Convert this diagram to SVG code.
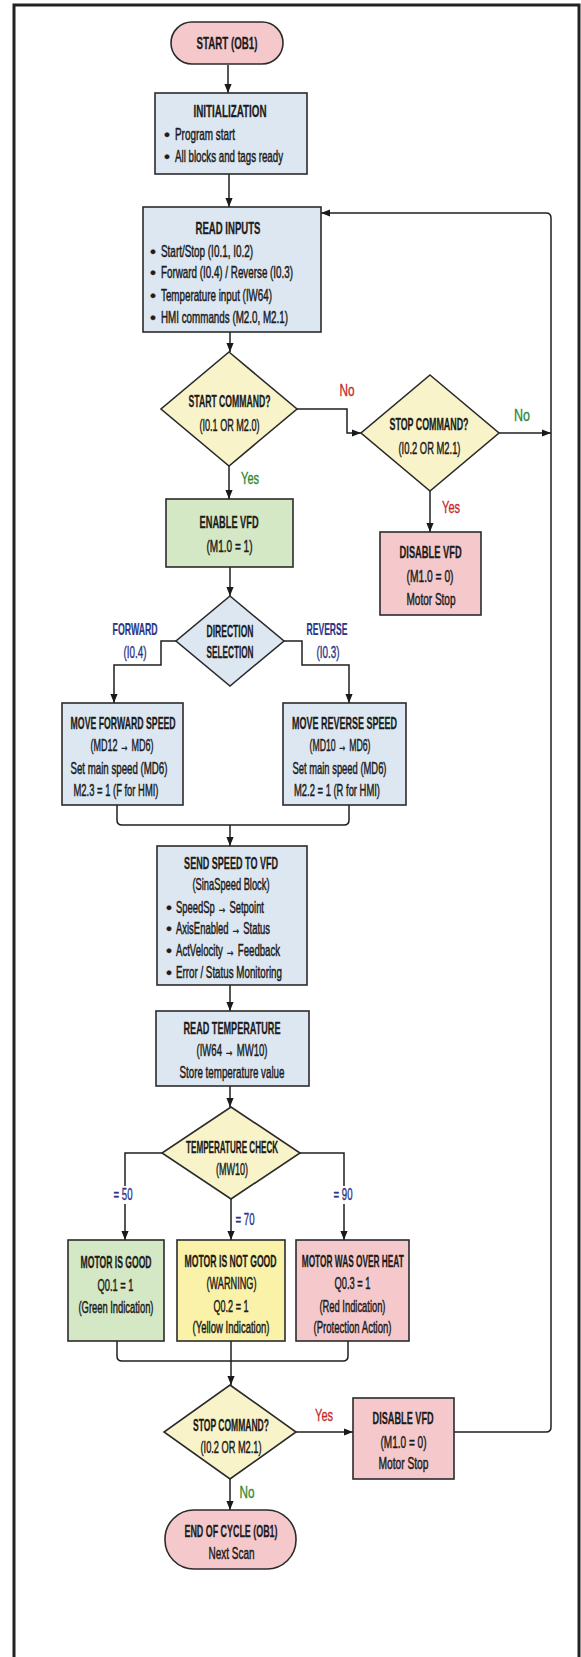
<svg xmlns="http://www.w3.org/2000/svg" width="581" height="1657" viewBox="0 0 581 1657">
<defs>
<marker id="ah" viewBox="0 0 10 10" refX="10" refY="5" markerWidth="9" markerHeight="9" markerUnits="userSpaceOnUse" orient="auto"><path d="M0,1 L10,5 L0,9 z" fill="#1a1a1a"/></marker>
<style>
text{font-family:"Liberation Sans",Arial,sans-serif;font-size:17px;fill:#1c1c1c;text-anchor:middle;stroke:#1c1c1c;stroke-width:0.5px;transform-box:fill-box;transform-origin:center;transform:scaleX(0.5)}
.h{font-weight:bold;stroke-width:0.3px}
.l{text-anchor:start;transform-origin:left center}
.bul{transform:none;stroke-width:0.3px}
.red{fill:#c42a2a;stroke:#c42a2a;stroke-width:0.35px}
.grn{fill:#2f8a2f;stroke:#2f8a2f;stroke-width:0.35px}
.nav{fill:#2d3588;stroke:#2d3588;stroke-width:0.25px;font-weight:bold}
.nav2{fill:#2d3588;stroke:#2d3588;stroke-width:0.4px}
.box{stroke:#2b2b2b;stroke-width:1.6}
.blue{fill:#dce7f2}
.pink{fill:#f5c9cb}
.green{fill:#d4e8c5}
.yel{fill:#f8f3c9}
.yel2{fill:#f9f2a8}
.con{fill:none;stroke:#1f1f1f;stroke-width:1.5}
.arr{marker-end:url(#ah)}
</style>
</defs>
<rect x="0" y="0" width="581" height="1657" fill="#fff"/>
<rect x="14" y="5" width="565" height="1670" fill="none" stroke="#222" stroke-width="3"/>

<g id="connectors">
<path class="con arr" d="M228,65 V93"/>
<path class="con arr" d="M229,174 V207"/>
<path class="con arr" d="M230,332 V352"/>
<path class="con arr" d="M297,409 H347 V433 H361"/>
<path class="con arr" d="M499,433 H551"/>
<path class="con arr" d="M229,466 V499"/>
<path class="con arr" d="M430,491 V532"/>
<path class="con arr" d="M230,567 V596"/>
<path class="con arr" d="M176,641 H161 V665 H114 V703"/>
<path class="con arr" d="M284,641 H302 V665 H349 V703"/>
<path class="con" d="M117,805 V820 Q117,825 122,825 H344 Q349,825 349,820 V805"/>
<path class="con arr" d="M230,825 V846"/>
<path class="con arr" d="M230,985 V1011"/>
<path class="con arr" d="M230,1086 V1107"/>
<path class="con arr" d="M162,1153 H125 V1240"/>
<path class="con arr" d="M300,1153 H344 V1240"/>
<path class="con arr" d="M231,1199 V1240"/>
<path class="con" d="M117,1341 V1356 Q117,1361 122,1361 H343 Q348,1361 348,1356 V1341"/>
<path class="con arr" d="M231,1341 V1385"/>
<path class="con arr" d="M296,1432 H353"/>
<path class="con arr" d="M454,1432 H546 Q551,1432 551,1427 V218 Q551,213 546,213 H321"/>
<path class="con arr" d="M230,1479 V1510"/>
</g>

<g id="edge-labels">
<rect x="112" y="1186" width="22" height="18" fill="#fff"/>
<rect x="332" y="1186" width="22" height="18" fill="#fff"/>
<text class="red" x="347" y="396" textLength="30" lengthAdjust="spacingAndGlyphs">No</text>
<text class="grn" x="522" y="421" textLength="32" lengthAdjust="spacingAndGlyphs">No</text>
<text class="grn" x="250" y="484" textLength="36" lengthAdjust="spacingAndGlyphs">Yes</text>
<text class="red" x="451" y="513" textLength="36" lengthAdjust="spacingAndGlyphs">Yes</text>
<text class="nav" x="135" y="635" textLength="90" lengthAdjust="spacingAndGlyphs">FORWARD</text>
<text class="nav2" x="135" y="658" textLength="46" lengthAdjust="spacingAndGlyphs">(I0.4)</text>
<text class="nav" x="327" y="635" textLength="82" lengthAdjust="spacingAndGlyphs">REVERSE</text>
<text class="nav2" x="328" y="658" textLength="46" lengthAdjust="spacingAndGlyphs">(I0.3)</text>
<text class="nav2" x="123" y="1200" textLength="38" lengthAdjust="spacingAndGlyphs">= 50</text>
<text class="nav2" x="245" y="1225" textLength="38" lengthAdjust="spacingAndGlyphs">= 70</text>
<text class="nav2" x="343" y="1200" textLength="38" lengthAdjust="spacingAndGlyphs">= 90</text>
<text class="red" x="324" y="1421" textLength="36" lengthAdjust="spacingAndGlyphs">Yes</text>
<text class="grn" x="247" y="1498" textLength="30" lengthAdjust="spacingAndGlyphs">No</text>
</g>

<g id="n-start">
<rect class="box pink" x="171" y="22" width="112" height="42" rx="21"/>
<text class="h" x="227" y="49" textLength="122" lengthAdjust="spacingAndGlyphs">START (OB1)</text>
</g>

<g id="n-init">
<rect class="box blue" x="155" y="93" width="152" height="81"/>
<text class="h" x="230" y="117" textLength="146" lengthAdjust="spacingAndGlyphs">INITIALIZATION</text>
<text class="bul" x="167" y="140">•</text>
<text class="l" x="175" y="140" textLength="120" lengthAdjust="spacingAndGlyphs">Program start</text>
<text class="bul" x="167" y="162">•</text>
<text class="l" x="175" y="162" textLength="216" lengthAdjust="spacingAndGlyphs">All blocks and tags ready</text>
</g>

<g id="n-read">
<rect class="box blue" x="143" y="207" width="178" height="125"/>
<text class="h" x="228" y="234" textLength="130" lengthAdjust="spacingAndGlyphs">READ INPUTS</text>
<text class="bul" x="153" y="257">•</text>
<text class="l" x="161" y="257" textLength="184" lengthAdjust="spacingAndGlyphs">Start/Stop (I0.1, I0.2)</text>
<text class="bul" x="153" y="278">•</text>
<text class="l" x="161" y="278" textLength="264" lengthAdjust="spacingAndGlyphs">Forward (I0.4) / Reverse (I0.3)</text>
<text class="bul" x="153" y="301">•</text>
<text class="l" x="161" y="301" textLength="222" lengthAdjust="spacingAndGlyphs">Temperature input (IW64)</text>
<text class="bul" x="153" y="323">•</text>
<text class="l" x="161" y="323" textLength="254" lengthAdjust="spacingAndGlyphs">HMI commands (M2.0, M2.1)</text>
</g>

<g id="d-start">
<polygon class="box yel" points="229,352 297,409 229,466 161,409"/>
<text class="h" x="229.5" y="407" textLength="164" lengthAdjust="spacingAndGlyphs">START COMMAND?</text>
<text x="229.5" y="431" textLength="120" lengthAdjust="spacingAndGlyphs">(I0.1 OR M2.0)</text>
</g>

<g id="d-stop">
<polygon class="box yel" points="430,375 499,433 430,491 361,433"/>
<text class="h" x="429" y="430" textLength="158" lengthAdjust="spacingAndGlyphs">STOP COMMAND?</text>
<text x="429.5" y="454" textLength="124" lengthAdjust="spacingAndGlyphs">(I0.2 OR M2.1)</text>
</g>

<g id="n-enable">
<rect class="box green" x="166" y="499" width="127" height="68"/>
<text class="h" x="229" y="528" textLength="118" lengthAdjust="spacingAndGlyphs">ENABLE VFD</text>
<text x="229.5" y="552" textLength="92" lengthAdjust="spacingAndGlyphs">(M1.0 = 1)</text>
</g>

<g id="n-disable1">
<rect class="box pink" x="380" y="532" width="101" height="83"/>
<text class="h" x="430.5" y="558" textLength="124" lengthAdjust="spacingAndGlyphs">DISABLE VFD</text>
<text x="430" y="582" textLength="94" lengthAdjust="spacingAndGlyphs">(M1.0 = 0)</text>
<text x="431" y="605" textLength="98" lengthAdjust="spacingAndGlyphs">Motor Stop</text>
</g>

<g id="d-dir">
<polygon class="box blue" points="230,596 284,641 230,686 176,641"/>
<text class="h" x="230" y="637" textLength="94" lengthAdjust="spacingAndGlyphs">DIRECTION</text>
<text class="h" x="230" y="658" textLength="94" lengthAdjust="spacingAndGlyphs">SELECTION</text>
</g>

<g id="n-fwd">
<rect class="box blue" x="62" y="703" width="121" height="102"/>
<text class="h" x="123" y="729" textLength="210" lengthAdjust="spacingAndGlyphs">MOVE FORWARD SPEED</text>
<text x="122" y="751" textLength="126" lengthAdjust="spacingAndGlyphs">(MD12 → MD6)</text>
<text x="119" y="774" textLength="194" lengthAdjust="spacingAndGlyphs">Set main speed (MD6)</text>
<text x="116" y="796" textLength="170" lengthAdjust="spacingAndGlyphs">M2.3 = 1 (F for HMI)</text>
</g>

<g id="n-rev">
<rect class="box blue" x="283" y="703" width="123" height="102"/>
<text class="h" x="344.5" y="729" textLength="210" lengthAdjust="spacingAndGlyphs">MOVE REVERSE SPEED</text>
<text x="340" y="751" textLength="122" lengthAdjust="spacingAndGlyphs">(MD10 → MD6)</text>
<text x="339.5" y="774" textLength="188" lengthAdjust="spacingAndGlyphs">Set main speed (MD6)</text>
<text x="337" y="796" textLength="172" lengthAdjust="spacingAndGlyphs">M2.2 = 1 (R for HMI)</text>
</g>

<g id="n-send">
<rect class="box blue" x="157" y="846" width="150" height="139"/>
<text class="h" x="231" y="869" textLength="188" lengthAdjust="spacingAndGlyphs">SEND SPEED TO VFD</text>
<text x="231" y="890" textLength="154" lengthAdjust="spacingAndGlyphs">(SinaSpeed Block)</text>
<text class="bul" x="169" y="913">•</text>
<text class="l" x="176" y="913" textLength="176" lengthAdjust="spacingAndGlyphs">SpeedSp → Setpoint</text>
<text class="bul" x="169" y="934">•</text>
<text class="l" x="176" y="934" textLength="188" lengthAdjust="spacingAndGlyphs">AxisEnabled → Status</text>
<text class="bul" x="169" y="956">•</text>
<text class="l" x="176" y="956" textLength="208" lengthAdjust="spacingAndGlyphs">ActVelocity → Feedback</text>
<text class="bul" x="169" y="978">•</text>
<text class="l" x="176" y="978" textLength="212" lengthAdjust="spacingAndGlyphs">Error / Status Monitoring</text>
</g>

<g id="n-readtemp">
<rect class="box blue" x="156" y="1011" width="153" height="75"/>
<text class="h" x="232" y="1034" textLength="194" lengthAdjust="spacingAndGlyphs">READ TEMPERATURE</text>
<text x="232" y="1056" textLength="142" lengthAdjust="spacingAndGlyphs">(IW64 → MW10)</text>
<text x="232" y="1078" textLength="210" lengthAdjust="spacingAndGlyphs">Store temperature value</text>
</g>

<g id="d-temp">
<polygon class="box yel" points="231,1107 300,1153 231,1199 162,1153"/>
<text class="h" x="232" y="1153" textLength="184" lengthAdjust="spacingAndGlyphs">TEMPERATURE CHECK</text>
<text x="232" y="1175" textLength="64" lengthAdjust="spacingAndGlyphs">(MW10)</text>
</g>

<g id="n-good">
<rect class="box green" x="68" y="1240" width="96" height="101"/>
<text class="h" x="116" y="1268" textLength="142" lengthAdjust="spacingAndGlyphs">MOTOR IS GOOD</text>
<text x="115.5" y="1291" textLength="72" lengthAdjust="spacingAndGlyphs">Q0.1 = 1</text>
<text x="116" y="1313" textLength="150" lengthAdjust="spacingAndGlyphs">(Green Indication)</text>
</g>

<g id="n-notgood">
<rect class="box yel2" x="177" y="1240" width="108" height="101"/>
<text class="h" x="230.5" y="1267" textLength="184" lengthAdjust="spacingAndGlyphs">MOTOR IS NOT GOOD</text>
<text x="231.5" y="1289" textLength="100" lengthAdjust="spacingAndGlyphs">(WARNING)</text>
<text x="231" y="1312" textLength="70" lengthAdjust="spacingAndGlyphs">Q0.2 = 1</text>
<text x="231" y="1333" textLength="154" lengthAdjust="spacingAndGlyphs">(Yellow Indication)</text>
</g>

<g id="n-overheat">
<rect class="box pink" x="296" y="1240" width="113" height="101"/>
<text class="h" x="352.5" y="1267" textLength="204" lengthAdjust="spacingAndGlyphs">MOTOR WAS OVER HEAT</text>
<text x="352.5" y="1289" textLength="72" lengthAdjust="spacingAndGlyphs">Q0.3 = 1</text>
<text x="352.5" y="1312" textLength="132" lengthAdjust="spacingAndGlyphs">(Red Indication)</text>
<text x="352.5" y="1333" textLength="156" lengthAdjust="spacingAndGlyphs">(Protection Action)</text>
</g>

<g id="d-stop2">
<polygon class="box yel" points="230,1385 296,1432 230,1479 164,1432"/>
<text class="h" x="231" y="1431" textLength="152" lengthAdjust="spacingAndGlyphs">STOP COMMAND?</text>
<text x="231" y="1453" textLength="122" lengthAdjust="spacingAndGlyphs">(I0.2 OR M2.1)</text>
</g>

<g id="n-disable2">
<rect class="box pink" x="353" y="1398" width="101" height="81"/>
<text class="h" x="403" y="1424" textLength="122" lengthAdjust="spacingAndGlyphs">DISABLE VFD</text>
<text x="403.5" y="1448" textLength="92" lengthAdjust="spacingAndGlyphs">(M1.0 = 0)</text>
<text x="403.5" y="1469" textLength="100" lengthAdjust="spacingAndGlyphs">Motor Stop</text>
</g>

<g id="n-end">
<rect class="box pink" x="165" y="1510" width="131" height="59" rx="29"/>
<text class="h" x="231" y="1537" textLength="186" lengthAdjust="spacingAndGlyphs">END OF CYCLE (OB1)</text>
<text x="231.5" y="1559" textLength="92" lengthAdjust="spacingAndGlyphs">Next Scan</text>
</g>
</svg>
